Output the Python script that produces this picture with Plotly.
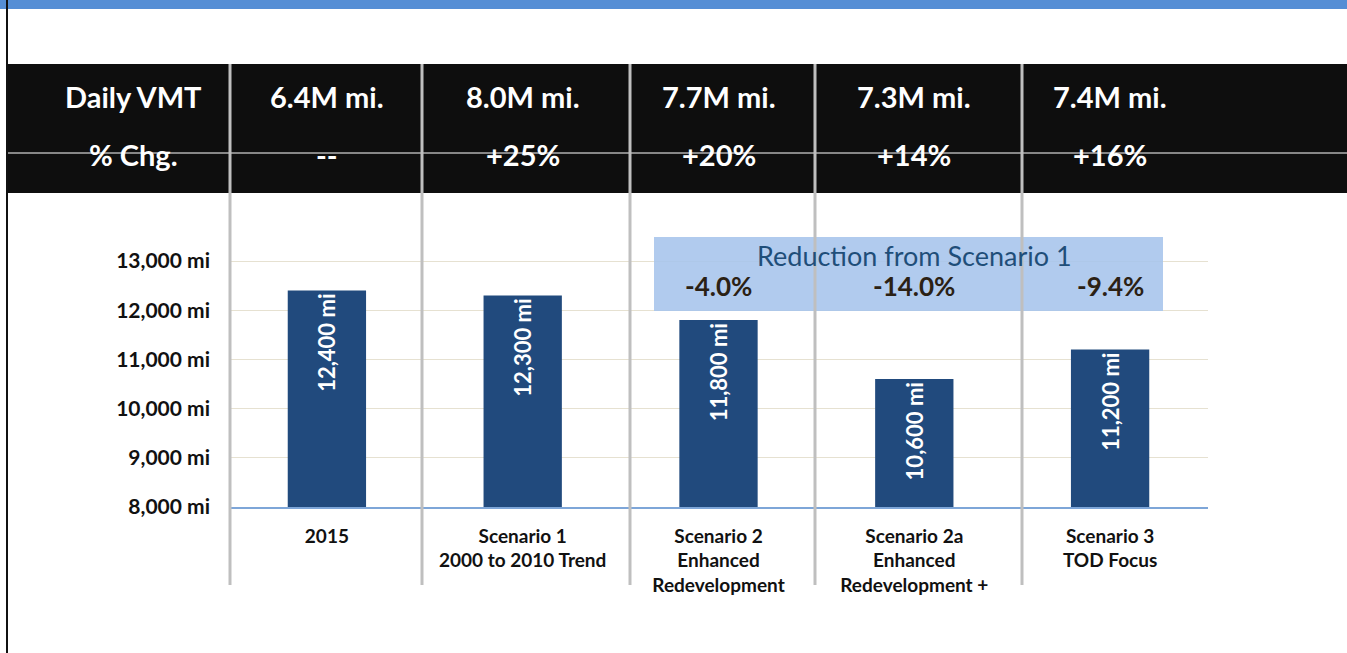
import plotly.graph_objects as go

W, H = 1347, 653

categories = ["2015",
              "Scenario 1<br>2000 to 2010 Trend",
              "Scenario 2<br>Enhanced<br>Redevelopment",
              "Scenario 2a<br>Enhanced<br>Redevelopment +",
              "Scenario 3<br>TOD Focus"]
vmt_values = [12400, 12300, 11800, 10600, 11200]
bar_labels = ["12,400 mi", "12,300 mi", "11,800 mi", "10,600 mi", "11,200 mi"]
daily_vmt = ["6.4M mi.", "8.0M mi.", "7.7M mi.", "7.3M mi.", "7.4M mi."]
pct_change = ["--", "+25%", "+20%", "+14%", "+16%"]
reduction_cats = [2, 3, 4]
reduction_labels = ["-4.0%", "-14.0%", "-9.4%"]
y_ticks = [8000, 9000, 10000, 11000, 12000, 13000]
y_tick_text = ["8,000 mi", "9,000 mi", "10,000 mi", "11,000 mi", "12,000 mi", "13,000 mi"]

FONT = "Lato"


def px(x):
    return x / W


def py(y):
    return 1 - y / H


x_idx = list(range(len(categories)))

fig = go.Figure()
fig.add_trace(go.Bar(
    x=x_idx, y=vmt_values, width=0.4,
    marker=dict(color="#214A7D", line=dict(width=0)),
    text=bar_labels, textposition="inside", insidetextanchor="end",
    textangle=-90, textfont=dict(family=FONT, size=22, color="white", weight="bold"),
    hoverinfo="skip", cliponaxis=True,
))

shapes = []
shapes.append(dict(type="rect", xref="paper", yref="paper", x0=0, x1=1, y0=py(9), y1=1,
                   fillcolor="#558ED5", line=dict(width=0), layer="below"))
shapes.append(dict(type="line", xref="paper", yref="paper", x0=px(7), x1=px(7), y0=0, y1=1,
                   line=dict(color="#111111", width=2), layer="above"))
shapes.append(dict(type="rect", xref="paper", yref="paper", x0=px(8), x1=1, y0=py(193), y1=py(64),
                   fillcolor="#0E0E0E", line=dict(width=0), layer="below"))
shapes.append(dict(type="rect", xref="paper", yref="paper", x0=px(654), x1=px(1163), y0=py(311), y1=py(237),
                   fillcolor="rgba(166,196,236,0.88)", line=dict(width=0), layer="above"))
shapes.append(dict(type="line", xref="paper", yref="paper", x0=px(8), x1=1, y0=py(153), y1=py(153),
                   line=dict(color="white", width=1), layer="above"))
for sx in [230, 422, 630, 815, 1022]:
    shapes.append(dict(type="line", xref="paper", yref="paper", x0=px(sx), x1=px(sx), y0=py(585), y1=py(64),
                       line=dict(color="#BFBFBF", width=3), layer="above"))

annotations = []
hdr_font = dict(family=FONT, size=29, color="white", weight="bold")
annotations.append(dict(xref="paper", yref="paper", x=px(133), y=py(97), text="Daily VMT",
                        showarrow=False, font=hdr_font, xanchor="center", yanchor="middle"))
annotations.append(dict(xref="paper", yref="paper", x=px(133), y=py(154), text="% Chg.",
                        showarrow=False, font=hdr_font, xanchor="center", yanchor="middle"))
for i, (v, p) in enumerate(zip(daily_vmt, pct_change)):
    annotations.append(dict(xref="x", yref="paper", x=i, y=py(97), text=v, showarrow=False,
                            font=hdr_font, xanchor="center", yanchor="middle"))
    annotations.append(dict(xref="x", yref="paper", x=i, y=py(154), text=p, showarrow=False,
                            font=hdr_font, xanchor="center", yanchor="middle"))

annotations.append(dict(xref="x", yref="y", x=3, y=13120, text="Reduction from Scenario 1",
                        showarrow=False, font=dict(family=FONT, size=27, color="#1F4E79"),
                        xanchor="center", yanchor="middle"))
for c, r in zip(reduction_cats, reduction_labels):
    annotations.append(dict(xref="x", yref="y", x=c, y=12490, text=r, showarrow=False,
                            font=dict(family=FONT, size=26, color="#2B2114", weight="bold"),
                            xanchor="center", yanchor="middle"))

fig.update_layout(
    width=W, height=H, margin=dict(l=0, r=0, t=0, b=0, autoexpand=False),
    paper_bgcolor="white", plot_bgcolor="white",
    showlegend=False, shapes=shapes, annotations=annotations,
    font=dict(family=FONT),
    xaxis=dict(domain=[px(229), px(1208)], range=[-0.5, 4.5], automargin=False,
               tickmode="array", tickvals=x_idx, ticktext=categories,
               tickfont=dict(family=FONT, size=19, color="#111111", weight="bold"),
               showgrid=False, zeroline=False, showline=True, linecolor="#7EA6D8", linewidth=1.5,
               ticks="", ticklabelstandoff=11, fixedrange=True),
    yaxis=dict(domain=[py(507), py(211.8)], range=[8000, 14000], automargin=False,
               tickmode="array", tickvals=y_ticks, ticktext=y_tick_text,
               tickfont=dict(family=FONT, size=21, color="#111111", weight="bold"),
               showgrid=True, gridcolor="#E6E1D1", gridwidth=1, zeroline=False, showline=False,
               ticks="", ticklabelstandoff=18, fixedrange=True),
)

fig.write_html("out.html", config={"displayModeBar": False},
               post_script="document.body.style.margin='0';document.body.style.overflow='hidden';")
